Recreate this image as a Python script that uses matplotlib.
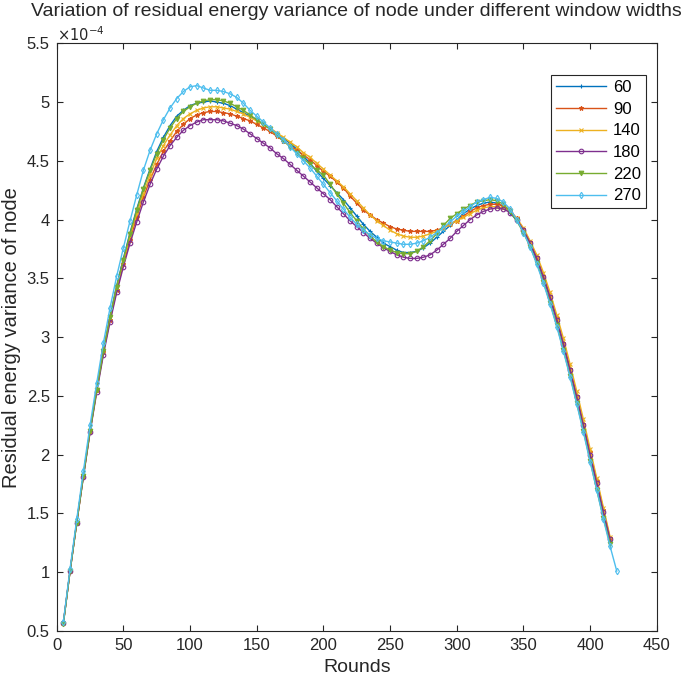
import matplotlib
matplotlib.use("Agg")
import matplotlib.pyplot as plt
from matplotlib.ticker import FuncFormatter, MultipleLocator

plt.rcParams['font.family'] = ['Liberation Sans', 'DejaVu Sans']

# rounds (x) and residual energy variance (units of 1e-4) per window width
rounds = list(range(5, 416, 5))
rounds_270 = list(range(5, 421, 5))

w60 = [0.57, 1.01, 1.43, 1.83, 2.21, 2.56, 2.89, 3.18, 3.44, 3.67,
       3.89, 4.09, 4.27, 4.43, 4.58, 4.70, 4.80, 4.88, 4.93, 4.97,
       4.99, 5.00, 5.01, 5.00, 4.99, 4.97, 4.94, 4.91, 4.88, 4.85,
       4.81, 4.77, 4.73, 4.69, 4.65, 4.60, 4.54, 4.48, 4.41, 4.35,
       4.29, 4.23, 4.17, 4.10, 4.03, 3.96, 3.90, 3.85, 3.80, 3.77,
       3.74, 3.72, 3.72, 3.73, 3.76, 3.80, 3.85, 3.90, 3.95, 4.00,
       4.05, 4.09, 4.12, 4.14, 4.15, 4.14, 4.11, 4.06, 3.99, 3.90,
       3.79, 3.66, 3.50, 3.33, 3.14, 2.93, 2.71, 2.48, 2.24, 1.99,
       1.75, 1.50, 1.27]
w90 = [0.57, 1.01, 1.42, 1.82, 2.20, 2.55, 2.87, 3.15, 3.40, 3.62,
       3.83, 4.02, 4.19, 4.34, 4.47, 4.58, 4.67, 4.75, 4.81, 4.86,
       4.89, 4.91, 4.92, 4.92, 4.91, 4.90, 4.88, 4.86, 4.84, 4.81,
       4.78, 4.75, 4.71, 4.67, 4.63, 4.59, 4.55, 4.51, 4.46, 4.41,
       4.37, 4.32, 4.27, 4.20, 4.14, 4.08, 4.04, 4.00, 3.97, 3.94,
       3.92, 3.91, 3.90, 3.90, 3.90, 3.90, 3.91, 3.93, 3.96, 3.99,
       4.03, 4.07, 4.10, 4.12, 4.13, 4.13, 4.12, 4.08, 4.01, 3.92,
       3.81, 3.68, 3.52, 3.35, 3.16, 2.95, 2.73, 2.50, 2.26, 2.02,
       1.78, 1.53, 1.29]
w140 = [0.57, 1.01, 1.42, 1.82, 2.20, 2.55, 2.88, 3.16, 3.42, 3.64,
        3.86, 4.05, 4.22, 4.38, 4.52, 4.63, 4.72, 4.80, 4.86, 4.90,
        4.93, 4.95, 4.96, 4.96, 4.95, 4.94, 4.92, 4.90, 4.87, 4.84,
        4.81, 4.78, 4.74, 4.70, 4.66, 4.62, 4.57, 4.53, 4.48, 4.43,
        4.38, 4.33, 4.28, 4.22, 4.16, 4.10, 4.04, 3.99, 3.95, 3.91,
        3.88, 3.86, 3.85, 3.85, 3.86, 3.88, 3.90, 3.93, 3.96, 3.99,
        4.02, 4.05, 4.08, 4.10, 4.11, 4.11, 4.10, 4.07, 4.01, 3.93,
        3.82, 3.70, 3.55, 3.38, 3.19, 2.99, 2.77, 2.54, 2.30, 2.05,
        1.80, 1.55, 1.30]
w180 = [0.57, 1.01, 1.42, 1.81, 2.19, 2.53, 2.85, 3.13, 3.38, 3.60,
        3.80, 3.98, 4.15, 4.30, 4.43, 4.54, 4.63, 4.70, 4.76, 4.80,
        4.83, 4.85, 4.85, 4.85, 4.84, 4.82, 4.80, 4.77, 4.73, 4.69,
        4.65, 4.61, 4.56, 4.52, 4.47, 4.42, 4.37, 4.32, 4.27, 4.22,
        4.17, 4.11, 4.05, 3.99, 3.94, 3.89, 3.84, 3.80, 3.76, 3.73,
        3.70, 3.68, 3.67, 3.67, 3.68, 3.70, 3.74, 3.79, 3.84, 3.90,
        3.95, 4.00, 4.04, 4.07, 4.09, 4.10, 4.09, 4.06, 4.00, 3.91,
        3.80, 3.67, 3.51, 3.34, 3.15, 2.94, 2.72, 2.49, 2.25, 2.00,
        1.76, 1.51, 1.28]
w220 = [0.56, 1.01, 1.42, 1.82, 2.20, 2.55, 2.88, 3.17, 3.43, 3.66,
        3.88, 4.08, 4.26, 4.42, 4.56, 4.68, 4.78, 4.86, 4.92, 4.96,
        4.99, 5.01, 5.02, 5.02, 5.01, 4.99, 4.96, 4.93, 4.89, 4.85,
        4.81, 4.77, 4.72, 4.67, 4.62, 4.57, 4.52, 4.47, 4.42, 4.38,
        4.30, 4.22, 4.14, 4.06, 3.99, 3.92, 3.86, 3.81, 3.77, 3.74,
        3.72, 3.71, 3.71, 3.73, 3.77, 3.82, 3.88, 3.95, 4.01, 4.05,
        4.09, 4.12, 4.15, 4.16, 4.17, 4.16, 4.13, 4.07, 3.99, 3.89,
        3.77, 3.63, 3.47, 3.29, 3.10, 2.89, 2.67, 2.44, 2.20, 1.95,
        1.70, 1.46, 1.24]
w270 = [0.58, 1.03, 1.45, 1.86, 2.25, 2.61, 2.95, 3.25, 3.52, 3.76,
        3.99, 4.21, 4.42, 4.59, 4.73, 4.85, 4.95, 5.03, 5.09, 5.13,
        5.14, 5.12, 5.10, 5.10, 5.09, 5.07, 5.04, 4.99, 4.93, 4.88,
        4.83, 4.78, 4.73, 4.68, 4.62, 4.56, 4.50, 4.44, 4.37, 4.30,
        4.23, 4.16, 4.09, 4.02, 3.96, 3.91, 3.87, 3.84, 3.82, 3.81,
        3.80, 3.79, 3.79, 3.80, 3.82, 3.85, 3.89, 3.93, 3.98, 4.03,
        4.07, 4.11, 4.15, 4.17, 4.19, 4.18, 4.15, 4.09, 4.00, 3.89,
        3.77, 3.62, 3.46, 3.28, 3.09, 2.88, 2.66, 2.43, 2.19, 1.94,
        1.70, 1.45, 1.22, 1.01]

labels = ['60', '90', '140', '180', '220', '270']

fig = plt.figure(figsize=(6.85, 6.83), dpi=100)
ax = fig.add_axes([0.0828, 0.0761, 0.876, 0.8605])

styles = [('#0072BD', '+', 'full'), ('#D95319', '*', 'full'),
          ('#EDB120', 'x', 'full'), ('#7E2F8E', 'o', 'none'),
          ('#77AC30', 'v', 'full'), ('#4DBEEE', 'd', 'none')]
series = [w60, w90, w140, w180, w220, w270]
for ys, lab, (c, m, fs) in zip(series, labels, styles):
    xs = rounds_270 if lab == '270' else rounds
    ax.plot(xs, ys, color=c, marker=m, markersize=3.3, fillstyle=fs,
            markeredgewidth=0.8, linewidth=1.0, label=lab)

ax.set_xlim(0, 450)
ax.set_ylim(0.5, 5.5)
ax.xaxis.set_major_locator(MultipleLocator(50))
ax.yaxis.set_major_locator(MultipleLocator(0.5))
ax.yaxis.set_major_formatter(FuncFormatter(lambda v, p: '%g' % v))
ax.tick_params(direction='in', top=True, right=True, labelsize=12,
               colors='#262626', length=4, width=0.8, pad=5)
for s in ax.spines.values():
    s.set_color('#262626')
    s.set_linewidth(0.8)

ax.text(0.0, 0.999, r'$\times10^{-4}$', transform=ax.transAxes,
        fontsize=10.5, color='#262626', va='bottom', ha='left')
ax.set_xlabel('Rounds', fontsize=14, color='#262626', labelpad=4)
ax.set_ylabel('Residual energy variance of node', fontsize=14.5,
              color='#262626', labelpad=4)
ax.set_title('Variation of residual energy variance of node under different window widths',
             fontsize=14, color='#262626', pad=19.5)

leg = ax.legend(loc='upper right', bbox_to_anchor=(0.982, 0.946), fontsize=12,
                handlelength=3.0, fancybox=False, framealpha=1,
                borderaxespad=0, edgecolor='#262626', borderpad=0.3,
                labelspacing=0.4, handletextpad=0.4)
leg.get_frame().set_linewidth(0.8)

fig.savefig('out.png', dpi=100)
